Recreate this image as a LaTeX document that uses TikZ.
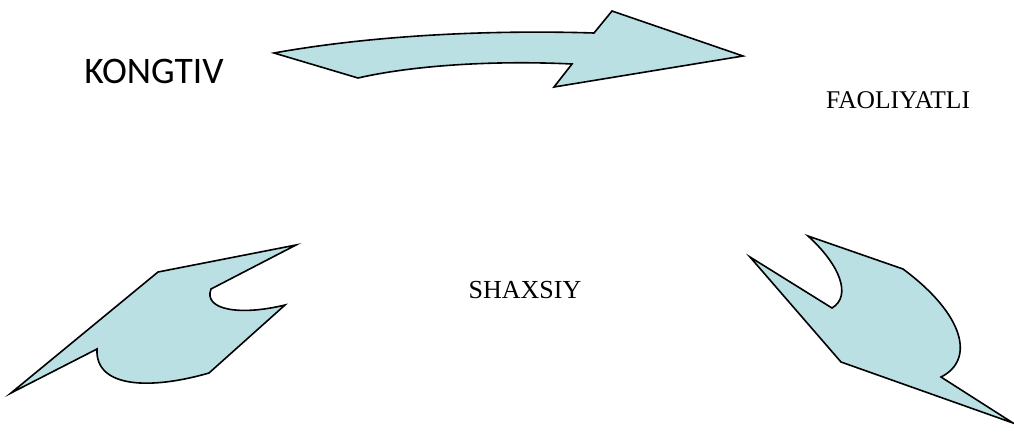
\documentclass[tikz,border=0pt]{standalone}
\usepackage{fontspec}
\setmainfont{Liberation Serif}
\newfontfamily\calibri{Carlito}
\usepackage{tikz}
\usetikzlibrary{positioning, calc}
\definecolor{arrowblue}{RGB}{186,224,228}
\tikzset{
  bluearrow/.style={draw=black,fill=arrowblue,line width=1.6pt,line join=miter},
  label/.style={inner sep=0pt,anchor=base}
}

\begin{document}
\begin{tikzpicture}[x=1pt,y=-1pt]
    \useasboundingbox (0,0) rectangle (1014,432);

    \node[label,font=\calibri\fontsize{37.5}{40}\selectfont] (kongtiv) at (154,83) {KONGTIV};
    \node[label,font=\fontsize{25.5}{30}\selectfont] (faoliyatli) at (898,108) {FAOLIYATLI};
    \node[label,font=\fontsize{26}{30}\selectfont] (shaxsiy) at (525,298) {SHAXSIY};

    \draw[bluearrow] (274,53) -- (358,78) .. controls (410,66) and (490,60) .. (572,64)
      -- (554,87) -- (743,56) -- (612,11) -- (594,33)
      .. controls (500,30) and (380,34) .. cycle;

    \draw[bluearrow] (11,393) -- (158,272) -- (296,245) -- (211,289)
      .. controls (203,310) and (240,316) .. (285,305)
      -- (209,373) .. controls (150,390) and (95,388) .. (97,349) -- cycle;

    \draw[bluearrow] (750,257) -- (841,362) -- (1013,423) -- (941,377)
      .. controls (975,360) and (965,315) .. (903,269)
      -- (808,236) .. controls (840,265) and (852,296) .. (832,308) -- cycle;
  \end{tikzpicture}
\end{document}
